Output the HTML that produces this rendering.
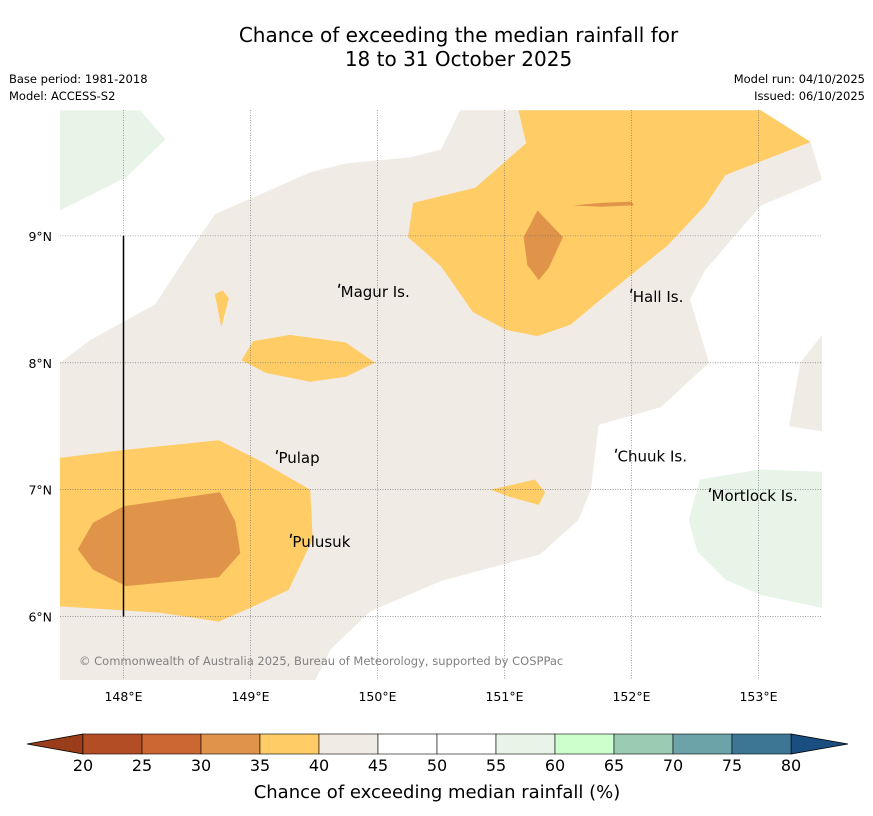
<!DOCTYPE html>
<html><head><meta charset="utf-8">
<style>
body{margin:0;background:#fff;font-family:"DejaVu Sans","Liberation Sans",sans-serif;}
#wrap{position:relative;width:873px;height:816px;overflow:hidden;}
.t{position:absolute;color:#000;white-space:nowrap;}
</style></head><body>
<div id="wrap">
<div class="t" style="left:0;width:917px;top:23px;text-align:center;font-size:20px;line-height:24px;">Chance of exceeding the median rainfall for<br>18 to 31 October 2025</div>
<div class="t" style="left:9px;top:72px;font-size:11.5px;">Base period: 1981-2018</div>
<div class="t" style="left:9px;top:89px;font-size:11.5px;">Model: ACCESS-S2</div>
<div class="t" style="right:8px;top:72px;font-size:11.5px;">Model run: 04/10/2025</div>
<div class="t" style="right:8px;top:89px;font-size:11.5px;">Issued: 06/10/2025</div>
<svg id="svg" width="873" height="816" style="position:absolute;left:0;top:0"></svg>
</div>
<script>
const lonRange=[147.5,153.5];
const latRange=[5.5,9.992];
const lonTicks=[148,149,150,151,152,153];
const latTicks=[6,7,8,9];
const levels=[20,25,30,35,40,45,50,55,60,65,70,75,80];
const levelColors=["#b34d26","#cc6633","#e0944a","#ffcc66","#f0ebe5","#ffffff","#ffffff","#e8f4e8","#ccffcc","#99ccb3","#6ba3a8","#3d7594"];
const underColor="#993d1a", overColor="#1a4d80";
// contour polygons in [lon,lat]
const polyBeige=[[147.5,8.0],[147.74,8.18],[148.25,8.46],[148.53,8.89],[148.72,9.17],[149.47,9.5],[149.75,9.57],[150.26,9.62],[150.5,9.68],[150.65,9.99],[153.02,9.99],[153.41,9.74],[153.5,9.44],[153.02,9.24],[152.58,8.73],[152.46,8.5],[152.61,8.0],[152.23,7.65],[151.74,7.51],[151.68,7.0],[151.58,6.76],[151.28,6.49],[150.5,6.28],[149.94,6.04],[149.63,5.74],[149.51,5.5],[147.5,5.5]];
const polyGreenTL=[[147.5,9.99],[148.13,9.99],[148.33,9.76],[148.02,9.46],[147.5,9.2]];
const polyGreenR=[[152.54,7.08],[153.02,7.16],[153.5,7.14],[153.5,6.07],[153.02,6.17],[152.74,6.29],[152.52,6.51],[152.45,6.76]];
const polyBeigeR=[[153.33,8.0],[153.5,8.22],[153.5,7.46],[153.24,7.5]];
const polyOrangeTop=[[151.11,9.99],[153.02,9.99],[153.41,9.74],[152.74,9.48],[152.58,9.24],[152.29,8.93],[151.76,8.5],[151.52,8.3],[151.26,8.21],[151.01,8.26],[150.75,8.4],[150.5,8.76],[150.24,8.99],[150.28,9.26],[150.77,9.38],[151.17,9.73]];
const polyDarkTop=[[151.26,9.2],[151.46,8.99],[151.35,8.75],[151.27,8.65],[151.18,8.77],[151.15,8.99]];
const polyStreak=[[151.54,9.24],[151.76,9.26],[152.0,9.27],[152.02,9.24],[151.76,9.23]];
const polySmall=[[148.72,8.54],[148.78,8.57],[148.83,8.51],[148.77,8.28]];
const polyMid=[[148.93,8.02],[149.02,8.17],[149.31,8.22],[149.75,8.16],[149.98,8.0],[149.75,7.89],[149.47,7.85],[149.12,7.92]];
const polyChuukOr=[[150.89,7.0],[151.24,7.08],[151.32,6.98],[151.27,6.88],[151.05,6.94]];
const polyOrangeBL=[[147.5,7.25],[147.98,7.31],[148.75,7.39],[149.09,7.22],[149.47,7.0],[149.49,6.61],[149.3,6.21],[149.0,6.07],[148.75,5.96],[148.29,6.03],[147.5,6.08]];
const polyDarkBL=[[147.76,6.74],[148.0,6.87],[148.76,6.98],[148.88,6.75],[148.92,6.5],[148.75,6.31],[148.02,6.24],[147.76,6.37],[147.64,6.53]];
const places=[["Magur Is.",149.71,8.52],["Hall Is.",152.01,8.48],["Pulap",149.22,7.21],["Chuuk Is.",151.89,7.22],["Mortlock Is.",152.63,6.91],["Pulusuk",149.33,6.55]];

const X0=60,X1=822,Y0=110,Y1=680;
function px(lon){return X0+(lon-lonRange[0])/(lonRange[1]-lonRange[0])*(X1-X0);}
function py(lat){return Y1-(lat-latRange[0])/(latRange[1]-latRange[0])*(Y1-Y0);}
const NS="http://www.w3.org/2000/svg";
const svg=document.getElementById('svg');
function mk(tag,attrs,parent){const e=document.createElementNS(NS,tag);for(const k in attrs)e.setAttribute(k,attrs[k]);(parent||svg).appendChild(e);return e;}
function poly(pts,fill,name){const e=mk('polygon',{points:pts.map(p=>px(p[0]).toFixed(1)+','+py(p[1]).toFixed(1)).join(' '),fill:fill});

return e;}
const bg=mk('rect',{x:X0,y:Y0,width:X1-X0,height:Y1-Y0,fill:'#ffffff'});


poly(polyBeige,levelColors[4],'region-40-45');
poly(polyGreenTL,levelColors[7],'region-55-60-northwest');
poly(polyGreenR,levelColors[7],'region-55-60-east');
poly(polyBeigeR,levelColors[4],'region-40-45-east');
poly(polyOrangeTop,levelColors[3],'region-35-40-north');
poly(polyDarkTop,levelColors[2],'region-30-35-north');
poly(polyStreak,levelColors[2],'region-30-35-streak');
poly(polySmall,levelColors[3],'region-35-40-small');
poly(polyMid,levelColors[3],'region-35-40-middle');
poly(polyChuukOr,levelColors[3],'region-35-40-chuuk');
poly(polyOrangeBL,levelColors[3],'region-35-40-southwest');
poly(polyDarkBL,levelColors[2],'region-30-35-southwest');
// gridlines
lonTicks.forEach(l=>{const g=mk('line',{x1:px(l),x2:px(l),y1:Y0,y2:Y1,stroke:'#666','stroke-width':0.6,'stroke-dasharray':'1,1.5'});


const t=mk('text',{x:px(l),y:Y1+21,'text-anchor':'middle','font-size':12.5,fill:'#000'});t.textContent=l+'°E';

});
latTicks.forEach(l=>{const g=mk('line',{x1:X0,x2:X1,y1:py(l),y2:py(l),stroke:'#666','stroke-width':0.6,'stroke-dasharray':'1,1.5'});


const t=mk('text',{x:X0-8,y:py(l)+5,'text-anchor':'end','font-size':12.5,fill:'#000'});t.textContent=l+'°N';

});
// vertical black line
const vl=mk('line',{x1:px(148),x2:px(148),y1:py(9),y2:py(6),stroke:'#000','stroke-width':1.5});


places.forEach(p=>{const m=mk('path',{d:`M${px(p[1])-1},${py(p[2])-13} l-1,4`,stroke:'#000','stroke-width':1.5,fill:'none'});


const t=mk('text',{x:px(p[1]),y:py(p[2]),'font-size':15,fill:'#000'});t.textContent=p[0];

});
const cp=mk('text',{x:79,y:665,'font-size':11.5,fill:'#808080'});cp.textContent='© Commonwealth of Australia 2025, Bureau of Meteorology, supported by COSPPac';


// colorbar
const CB0=83,CB1=791,CBY=734,CBH=20;
function cx(v){return CB0+(v-levels[0])/(levels[levels.length-1]-levels[0])*(CB1-CB0);}
const un=mk('polygon',{points:`${CB0},${CBY} ${CB0},${CBY+CBH} 27,${CBY+CBH/2}`,fill:underColor,stroke:'#000','stroke-width':0.8});


const ov=mk('polygon',{points:`${CB1},${CBY} ${CB1},${CBY+CBH} 848,${CBY+CBH/2}`,fill:overColor,stroke:'#000','stroke-width':0.8});


for(let i=0;i<levelColors.length;i++){const r=mk('rect',{x:cx(levels[i]),y:CBY,width:cx(levels[i+1])-cx(levels[i]),height:CBH,fill:levelColors[i],stroke:'#000','stroke-width':0.6});

}
levels.forEach(v=>{const t=mk('text',{x:cx(v),y:771,'text-anchor':'middle','font-size':16,fill:'#000'});t.textContent=v;

});
const ct=mk('text',{x:437,y:798,'text-anchor':'middle','font-size':18,fill:'#000'});ct.textContent='Chance of exceeding median rainfall (%)';


</script>
</body></html>
